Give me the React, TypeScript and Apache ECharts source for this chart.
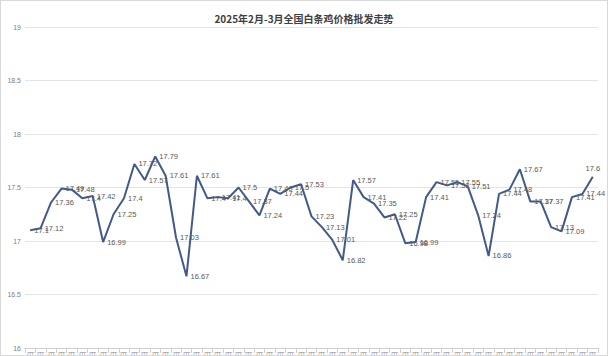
import React, { useEffect, useRef } from "react";
import * as echarts from "echarts";

const titleText = "2025年2月-3月全国白条鸡价格批发走势";

const feb: string[] = Array.from({ length: 28 }, (_, i) => `2月${i + 1}日`);
const mar: string[] = Array.from({ length: 27 }, (_, i) => `3月${i + 1}日`);
const categories: string[] = [...feb, ...mar];

const prices: number[] = [
  17.1, 17.12, 17.36, 17.49, 17.48, 17.4, 17.42, 16.99, 17.25, 17.4,
  17.72, 17.57, 17.79, 17.61, 17.03, 16.67, 17.61, 17.4, 17.41, 17.4,
  17.5, 17.37, 17.24, 17.49, 17.44, 17.5, 17.53, 17.23, 17.13, 17.01,
  16.82, 17.57, 17.41, 17.35, 17.22, 17.25, 16.98, 16.99, 17.41, 17.55,
  17.52, 17.55, 17.51, 17.24, 16.86, 17.44, 17.48, 17.67, 17.37, 17.37,
  17.13, 17.09, 17.41, 17.44, 17.6,
];

const yMin = 16;
const yMax = 19;
const yStep = 0.5;

export default function App() {
  const ref = useRef<HTMLDivElement>(null);
  useEffect(() => {
    if (!ref.current) return;
    const chart = echarts.init(ref.current, undefined, { renderer: "svg" });
    const lastIdx = prices.length - 1;
    chart.setOption({
      animation: false,
      backgroundColor: "#ffffff",
      title: {
        text: titleText,
        left: "center",
        top: 7,
        textStyle: {
          fontSize: 10,
          fontWeight: "bold",
          color: "#404040",
          fontFamily: "Noto Sans CJK SC",
        },
      },
      grid: {
        left: 24,
        right: 9,
        top: 26,
        bottom: 7,
        containLabel: false,
        outerBoundsMode: "none",
      },
      xAxis: {
        type: "category",
        data: categories,
        boundaryGap: true,
        axisLine: { lineStyle: { color: "#d0d0d0" } },
        axisTick: { show: true, lineStyle: { color: "#d0d0d0" } },
        axisLabel: {
          interval: 0,
          rotate: 90,
          fontSize: 7,
          color: "#808080",
          margin: 3,
        },
      },
      yAxis: {
        type: "value",
        min: yMin,
        max: yMax,
        interval: yStep,
        axisLine: { show: false },
        axisTick: { show: false },
        axisLabel: {
          fontSize: 7,
          color: "#808080",
          margin: 4,
          formatter: (v: number) => String(v),
        },
        splitLine: { lineStyle: { color: "#e4e4e4" } },
      },
      series: [
        {
          type: "line",
          data: prices.map((v, i) =>
            i === lastIdx
              ? { value: v, label: { position: "top", offset: [4, 2] } }
              : v
          ),
          symbol: "circle",
          symbolSize: 0,
          showSymbol: true,
          itemStyle: { color: "#41598B" },
          lineStyle: { color: "#41598B", width: 2 },
          label: {
            show: true,
            position: "right",
            distance: 4,
            offset: [0, 1],
            fontSize: 7.5,
            color: "#595959",
          },
          labelLayout: { hideOverlap: false },
        },
      ],
    });
    return () => chart.dispose();
  }, []);
  return (
    <div
      ref={ref}
      style={{
        position: "fixed",
        left: 0,
        top: 0,
        width: 608,
        height: 356,
        boxSizing: "border-box",
        border: "1px solid #d9d9d9",
      }}
    />
  );
}
